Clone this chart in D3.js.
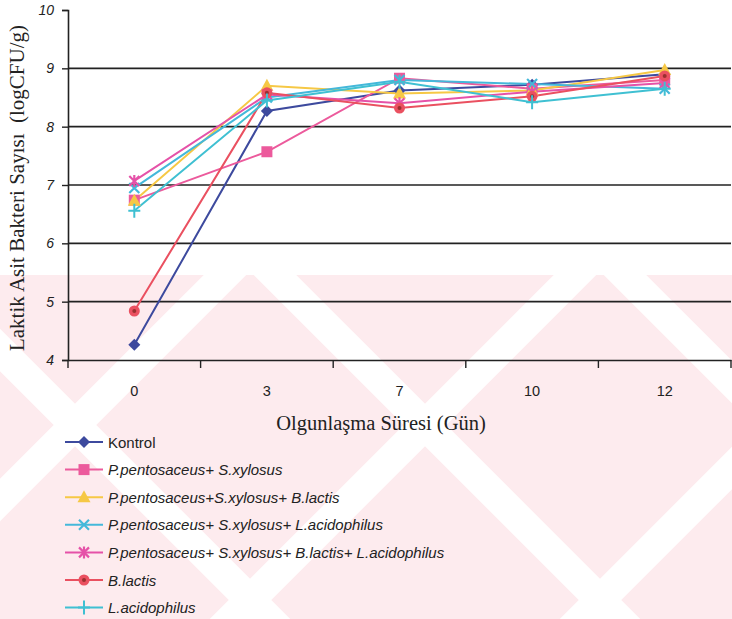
<!DOCTYPE html>
<html><head><meta charset="utf-8">
<script src="https://cdn.jsdelivr.net/npm/d3@7/dist/d3.min.js"></script>
<style>body{margin:0;background:#fff}svg{display:block}</style>
</head><body>
<svg id="c" width="732" height="619"></svg>
<script>
const days = ["0", "3", "7", "10", "12"];
const yTicks = [4, 5, 6, 7, 8, 9, 10];
const seriesNames = ["Kontrol", "P.pentosaceus+ S.xylosus", "P.pentosaceus+S.xylosus+ B.lactis",
  "P.pentosaceus+ S.xylosus+ L.acidophilus", "P.pentosaceus+ S.xylosus+ B.lactis+ L.acidophilus",
  "B.lactis", "L.acidophilus"];
const kontrol = [4.26, 8.27, 8.62, 8.72, 8.90];
const ppSx = [6.74, 7.57, 8.83, 8.65, 8.80];
const ppSxBl = [6.73, 8.70, 8.57, 8.62, 8.97];
const ppSxLa = [6.95, 8.50, 8.80, 8.73, 8.65];
const ppSxBlLa = [7.07, 8.55, 8.40, 8.60, 8.75];
const bLactis = [4.84, 8.58, 8.32, 8.52, 8.87];
const lAcido = [6.56, 8.45, 8.77, 8.42, 8.65];
const allSeries = [kontrol, ppSx, ppSxBl, ppSxLa, ppSxBlLa, bLactis, lAcido];
const colors = ["#3d4a9e", "#ec5a9c", "#f6c845", "#44b8da", "#e552a8", "#ea5060", "#3fc0d2"];
const markers = ["diamond", "square", "triangle", "x", "asterisk", "circle", "plus"];

(function () {
const svg = d3.select("#c");

// faint watermark background
const wm = svg.append("g");
wm.append("defs").append("clipPath").attr("id", "wmclip")
  .append("rect").attr("x", 0).attr("y", 275).attr("width", 732).attr("height", 344);
const wg = wm.append("g").attr("clip-path", "url(#wmclip)");
wg.append("rect").attr("x", 0).attr("y", 275).attr("width", 732).attr("height", 344).attr("fill", "#fdebee");
[[-200, 700, 250, 250], [150, 700, 600, 250], [500, 700, 950, 250], [-100, 250, 350, 700], [250, 250, 700, 700], [600, 250, 1050, 700]]
  .forEach(s => wg.append("line").attr("x1", s[0]).attr("y1", s[1]).attr("x2", s[2]).attr("y2", s[3])
    .attr("stroke", "#fff").attr("stroke-width", 30));

const mLeft = 68, mRight = 731, mTop = 10, mBottom = 360;
const x = d3.scaleBand().domain(days).range([mLeft, mRight]);
const y = d3.scaleLinear().domain([4, 10]).range([mBottom, mTop]);
const cx = d => x(d) + x.bandwidth() / 2;

// gridlines
svg.append("g").selectAll("line").data(yTicks.filter(t => t > 4 && t < 10)).join("line")
  .attr("x1", mLeft).attr("x2", mRight).attr("y1", d => y(d)).attr("y2", d => y(d))
  .attr("stroke", "#222").attr("stroke-width", 1.6);

// y axis
const ya = svg.append("g").attr("transform", `translate(${mLeft},0)`)
  .call(d3.axisLeft(y).tickValues(yTicks).tickSize(6).tickFormat(d3.format("d")));
ya.select(".domain").attr("stroke", "#222").attr("stroke-width", 1.6);
ya.selectAll(".tick line").attr("stroke", "#222").attr("stroke-width", 1.4);
ya.selectAll("text").attr("font-family", "Liberation Sans, Arial").attr("font-style", "italic")
  .attr("font-size", 14).attr("fill", "#222").attr("x", -14);

// x axis
const xa = svg.append("g").attr("transform", `translate(0,${mBottom})`)
  .call(d3.axisBottom(x).tickSize(0));
xa.select(".domain").attr("stroke", "#222").attr("stroke-width", 1.6);
xa.selectAll(".tick line").remove();
xa.selectAll("text").attr("font-family", "Liberation Sans, Arial").attr("font-size", 14.5)
  .attr("fill", "#222").attr("dy", 0).attr("y", 36);
const edges = days.map(d => x(d)).concat([mRight]);
svg.append("g").selectAll("line").data(edges).join("line")
  .attr("x1", d => d).attr("x2", d => d).attr("y1", mBottom).attr("y2", mBottom + 8)
  .attr("stroke", "#222").attr("stroke-width", 1.4);

// titles
svg.append("text").attr("x", 381).attr("y", 430).attr("text-anchor", "middle")
  .attr("font-family", "Liberation Serif, Times New Roman").attr("font-size", 20.5).attr("fill", "#222")
  .text("Olgunlaşma Süresi (Gün)");
svg.append("text").attr("transform", "translate(24,188) rotate(-90)").attr("text-anchor", "middle")
  .attr("font-family", "Liberation Serif, Times New Roman").attr("font-size", 21).attr("fill", "#222")
  .attr("xml:space", "preserve")
  .text("Laktik Asit Bakteri Sayısı  (logCFU/g)");

function drawMarker(g, type, px, py, col) {
  const s = 5;
  if (type === "diamond") g.append("path").attr("d", `M${px},${py - 6}L${px + 6},${py}L${px},${py + 6}L${px - 6},${py}Z`).attr("fill", col);
  else if (type === "square") g.append("rect").attr("x", px - 5.5).attr("y", py - 5.5).attr("width", 11).attr("height", 11).attr("fill", col);
  else if (type === "triangle") g.append("path").attr("d", `M${px},${py - 7}L${px + 6.5},${py + 5}L${px - 6.5},${py + 5}Z`).attr("fill", col);
  else if (type === "x") g.append("path").attr("d", `M${px - s},${py - s}L${px + s},${py + s}M${px - s},${py + s}L${px + s},${py - s}`).attr("stroke", col).attr("stroke-width", 2.2);
  else if (type === "asterisk") g.append("path").attr("d", `M${px - s},${py - s}L${px + s},${py + s}M${px - s},${py + s}L${px + s},${py - s}M${px},${py - 6}L${px},${py + 6}`).attr("stroke", col).attr("stroke-width", 2.2);
  else if (type === "circle") {
    g.append("circle").attr("cx", px).attr("cy", py).attr("r", 5.5).attr("fill", col);
    g.append("circle").attr("cx", px).attr("cy", py).attr("r", 2).attr("fill", "#9a3030");
  }
  else if (type === "plus") g.append("path").attr("d", `M${px - 6},${py}L${px + 6},${py}M${px},${py - 7}L${px},${py + 7}`).attr("stroke", col).attr("stroke-width", 2);
}

const line = d3.line().x((d, i) => cx(days[i])).y(d => y(d));
const plot = svg.append("g");
allSeries.forEach((vals, k) => {
  plot.append("path").datum(vals).attr("d", line).attr("fill", "none")
    .attr("stroke", colors[k]).attr("stroke-width", 2);
});
allSeries.forEach((vals, k) => {
  vals.forEach((v, i) => drawMarker(plot, markers[k], cx(days[i]), y(v), colors[k]));
});

// legend
const lg = svg.append("g");
seriesNames.forEach((n, k) => {
  const ly = 442 + k * 27.6;
  lg.append("line").attr("x1", 65).attr("x2", 103).attr("y1", ly).attr("y2", ly)
    .attr("stroke", colors[k]).attr("stroke-width", 2);
  drawMarker(lg, markers[k], 84, ly, colors[k]);
  lg.append("text").attr("x", 108).attr("y", ly + 5.5).attr("font-family", "Liberation Sans, Arial")
    .attr("font-size", 15).attr("fill", "#222").attr("font-style", k === 0 ? "normal" : "italic").text(n);
});
})();
</script>
</body></html>
